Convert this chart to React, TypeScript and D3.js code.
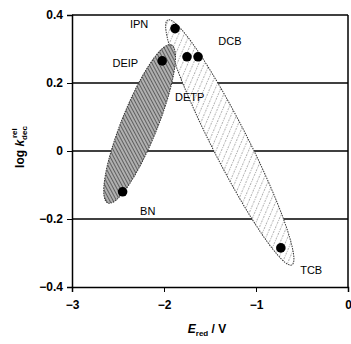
import React, { useEffect, useRef } from 'react';
import * as d3 from 'd3';

// reduction potential (V) vs log k_dec^rel
const names = ['IPN', 'DEIP', 'DCB', 'DETP', 'BN', 'TCB'];
const eRed = [-1.88, -2.02, -1.63, -1.75, -2.45, -0.73];
const logK = [0.36, 0.265, 0.277, 0.277, -0.12, -0.285];

// label anchors (data units)
const labelX = [-2.37, -2.56, -1.41, -1.88, -2.26, -0.52];
const labelY = [0.362, 0.247, 0.312, 0.147, -0.188, -0.362];

// ellipse tips (data units): [x1, y1, x2, y2]
const darkTips = [-2.61, -0.153, -1.92, 0.312];
const lightTips = [-1.96, 0.385, -0.61, -0.335];

const xTicks = [-3, -2, -1, 0];
const yTicks = [-0.4, -0.2, 0, 0.2, 0.4];
const gridY = [-0.2, 0, 0.2];

const width = 351;
const height = 344;

const App = () => {
    const svgRef = useRef(null);

    useEffect(() => {
        const svg = d3.select(svgRef.current);
        svg.selectAll('*').remove();

        const x = d3.scaleLinear().domain([-3, 0]).range([72, 348]);
        const y = d3.scaleLinear().domain([-0.4, 0.4]).range([287, 15]);

        const defs = svg.append('defs');
        const dark = defs.append('pattern')
            .attr('id', 'darkHatch')
            .attr('patternUnits', 'userSpaceOnUse')
            .attr('width', 3).attr('height', 3)
            .attr('patternTransform', 'rotate(40)');
        dark.append('rect').attr('width', 3).attr('height', 3).attr('fill', '#b0b0b0');
        dark.append('line').attr('x1', 0).attr('y1', 0).attr('x2', 0).attr('y2', 3)
            .attr('stroke', '#333').attr('stroke-width', 1.3);

        const light = defs.append('pattern')
            .attr('id', 'lightHatch')
            .attr('patternUnits', 'userSpaceOnUse')
            .attr('width', 5).attr('height', 5)
            .attr('patternTransform', 'rotate(-40)');
        light.append('rect').attr('width', 5).attr('height', 5).attr('fill', '#fff');
        light.append('line').attr('x1', 0).attr('y1', 0).attr('x2', 0).attr('y2', 5)
            .attr('stroke', '#555').attr('stroke-width', 0.9).attr('stroke-dasharray', '1,1');

        // grid lines + frame
        svg.append('g').selectAll('line').data(gridY).join('line')
            .attr('x1', x(-3)).attr('x2', x(0))
            .attr('y1', d => y(d)).attr('y2', d => y(d))
            .attr('stroke', '#000').attr('stroke-width', 1.3);
        svg.append('line').attr('x1', x(-3)).attr('x2', x(0)).attr('y1', y(0.4)).attr('y2', y(0.4))
            .attr('stroke', '#000').attr('stroke-width', 1.5);
        svg.append('line').attr('x1', x(0)).attr('x2', x(0)).attr('y1', y(0.4)).attr('y2', y(-0.4))
            .attr('stroke', '#000').attr('stroke-width', 1.5);

        const drawEllipse = (tips, fill, b) => {
            const x1 = x(tips[0]), y1 = y(tips[1]), x2 = x(tips[2]), y2 = y(tips[3]);
            const cx = (x1 + x2) / 2, cy = (y1 + y2) / 2;
            const a = Math.hypot(x2 - x1, y2 - y1) / 2;
            const ang = Math.atan2(y2 - y1, x2 - x1) * 180 / Math.PI;
            svg.append('ellipse')
                .attr('cx', 0).attr('cy', 0).attr('rx', a).attr('ry', b)
                .attr('transform', `translate(${cx},${cy}) rotate(${ang})`)
                .attr('fill', fill)
                .attr('stroke', '#333').attr('stroke-width', 1)
                .attr('stroke-dasharray', '1.5,1');
        };
        drawEllipse(lightTips, 'url(#lightHatch)', 18);
        drawEllipse(darkTips, 'url(#darkHatch)', 18);

        // points
        svg.append('g').selectAll('circle').data(names).join('circle')
            .attr('cx', (d, i) => x(eRed[i]))
            .attr('cy', (d, i) => y(logK[i]))
            .attr('r', 4.8)
            .attr('fill', '#000');

        svg.append('g').selectAll('text').data(names).join('text')
            .attr('x', (d, i) => x(labelX[i]))
            .attr('y', (d, i) => y(labelY[i]))
            .attr('font-family', 'Arial, Liberation Sans, sans-serif')
            .attr('font-size', 11)
            .attr('fill', '#000')
            .text(d => d);

        // axes
        const xAxis = d3.axisBottom(x).tickValues(xTicks).tickSize(5).tickFormat(d3.format('d'));
        const gx = svg.append('g').attr('transform', `translate(0,${y(-0.4)})`).call(xAxis);
        gx.select('.domain').attr('stroke-width', 1.5);
        gx.selectAll('text')
            .attr('font-family', 'Arial, Liberation Sans, sans-serif')
            .attr('font-size', 12).attr('font-weight', 'bold').attr('dy', '1.2em');

        const yAxis = d3.axisLeft(y).tickValues(yTicks).tickSize(5)
            .tickFormat(d => (d === 0 ? '0' : d3.format('.1f')(d).replace('-', '\u2212')));
        const gy = svg.append('g').attr('transform', `translate(${x(-3)},0)`).call(yAxis);
        gy.select('.domain').attr('stroke-width', 1.5);
        gy.selectAll('text')
            .attr('font-family', 'Arial, Liberation Sans, sans-serif')
            .attr('font-size', 12).attr('font-weight', 'bold').attr('x', -9);

        // axis titles
        const xl = svg.append('text')
            .attr('x', 207).attr('y', 333)
            .attr('text-anchor', 'middle')
            .attr('font-family', 'Arial, Liberation Sans, sans-serif')
            .attr('font-size', 12).attr('font-weight', 'bold');
        xl.append('tspan').attr('font-style', 'italic').text('E');
        xl.append('tspan').attr('font-size', 8).attr('dy', 3).text('red');
        xl.append('tspan').attr('dy', -3).text(' / V');

        const yl = svg.append('text')
            .attr('transform', 'translate(24,147) rotate(-90)')
            .attr('text-anchor', 'middle')
            .attr('font-family', 'Arial, Liberation Sans, sans-serif')
            .attr('font-size', 12).attr('font-weight', 'bold');
        yl.append('tspan').text('log ');
        yl.append('tspan').attr('font-style', 'italic').text('k');
        yl.append('tspan').attr('font-size', 8).attr('dy', 3).text('dec');
        yl.append('tspan').attr('font-size', 8).attr('dx', -12).attr('dy', -10).text('rel');
    }, []);

    return (
        <svg ref={svgRef} width={width} height={height} style={{ position: 'absolute', left: 0, top: 0 }} />
    );
};

export default App;
